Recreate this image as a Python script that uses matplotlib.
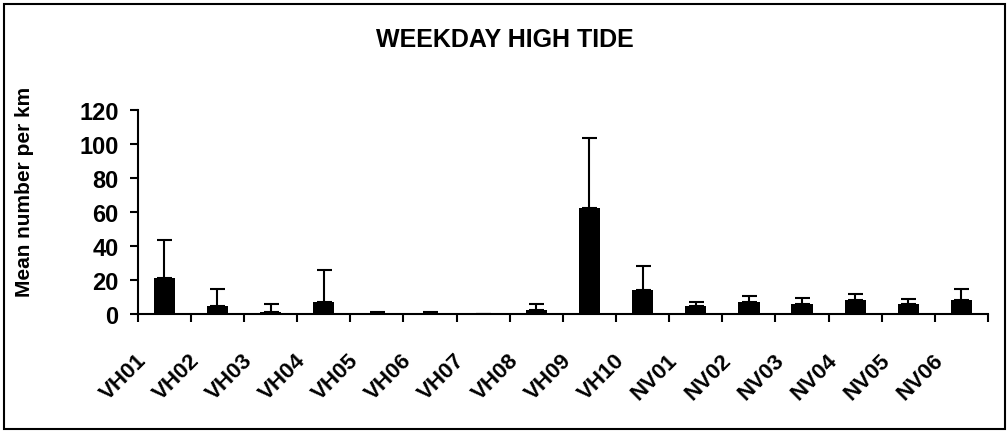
import numpy as np
import matplotlib
matplotlib.use('Agg')
import matplotlib.pyplot as plt
from matplotlib.patches import Rectangle
from matplotlib.ticker import FixedLocator, MultipleLocator
import matplotlib.transforms as mtransforms

plt.rcParams['font.family'] = ['Liberation Sans', 'DejaVu Sans']
plt.rcParams['font.weight'] = 'bold'

# survey sites
sites = ['VH01', 'VH02', 'VH03', 'VH04', 'VH05', 'VH06', 'VH07', 'VH08',
         'VH09', 'VH10', 'NV01', 'NV02', 'NV03', 'NV04', 'NV05', 'NV06']
# mean number per km
mean = [21, 4.5, 1, 6.9, 0, 0, 0, 2.2,
        62.3, 14, 4.5, 6.9, 5.7, 8.1, 5.7, 8.1]
# upper error (sd)
sd = [22.6, 9.8, 4.9, 19.1, 1.0, 1.0, 0, 3.7,
      41.2, 14.3, 2.6, 3.7, 3.7, 3.7, 2.8, 6.2]

fig = plt.figure(figsize=(10.08, 4.35), dpi=100)
ax = fig.add_axes([0.1366, 0.2766, 0.9802 - 0.1366, 0.7448 - 0.2766])

x = np.arange(len(sites))
ax.bar(x, mean, width=0.4, color='black', zorder=2)
ax.errorbar(x, mean, yerr=[np.zeros(len(sd)), sd], fmt='none', ecolor='black',
            elinewidth=1.5, capsize=5.4, capthick=1.5, zorder=3)

ax.set_xlim(-0.5, len(sites) - 0.5)
ax.set_ylim(0, 120)
ax.yaxis.set_major_locator(MultipleLocator(20))

for s in ['top', 'right']:
    ax.spines[s].set_visible(False)
for s in ['left', 'bottom']:
    ax.spines[s].set_linewidth(1.5)

ax.tick_params(axis='y', direction='out', length=5.8, width=1.5, pad=8, labelsize=17)
ax.set_xticks(x)
ax.set_xticklabels(sites, rotation=45, ha='center', va='center',
                   rotation_mode='anchor', fontsize=16)
ax.tick_params(axis='x', which='major', length=0, pad=45)
ax.xaxis.set_minor_locator(FixedLocator(np.arange(-0.5, len(sites), 1.0)))
ax.tick_params(axis='x', which='minor', direction='out', length=5.8, width=1.5)

# labels sit down-left of each bar
shift = mtransforms.ScaledTranslation(-41 / 100, 0, fig.dpi_scale_trans)
for lbl in ax.get_xticklabels():
    lbl.set_transform(lbl.get_transform() + shift)

ax.set_ylabel('Mean number per km', fontsize=15, fontweight='bold')
ax.yaxis.set_label_coords(34 / 1008, 1 - 192 / 435, transform=fig.transFigure)

fig.text(505 / 1008, 1 - 40 / 435, 'WEEKDAY HIGH TIDE', ha='center', va='center',
         fontsize=18, fontweight='bold')

# frame round the whole chart
fig.patches.append(Rectangle((4 / 1008, 5 / 435), 1001 / 1008, 425 / 435,
                             transform=fig.transFigure, fill=False,
                             edgecolor='black', linewidth=1.5))

fig.savefig('out.png', dpi=100)
